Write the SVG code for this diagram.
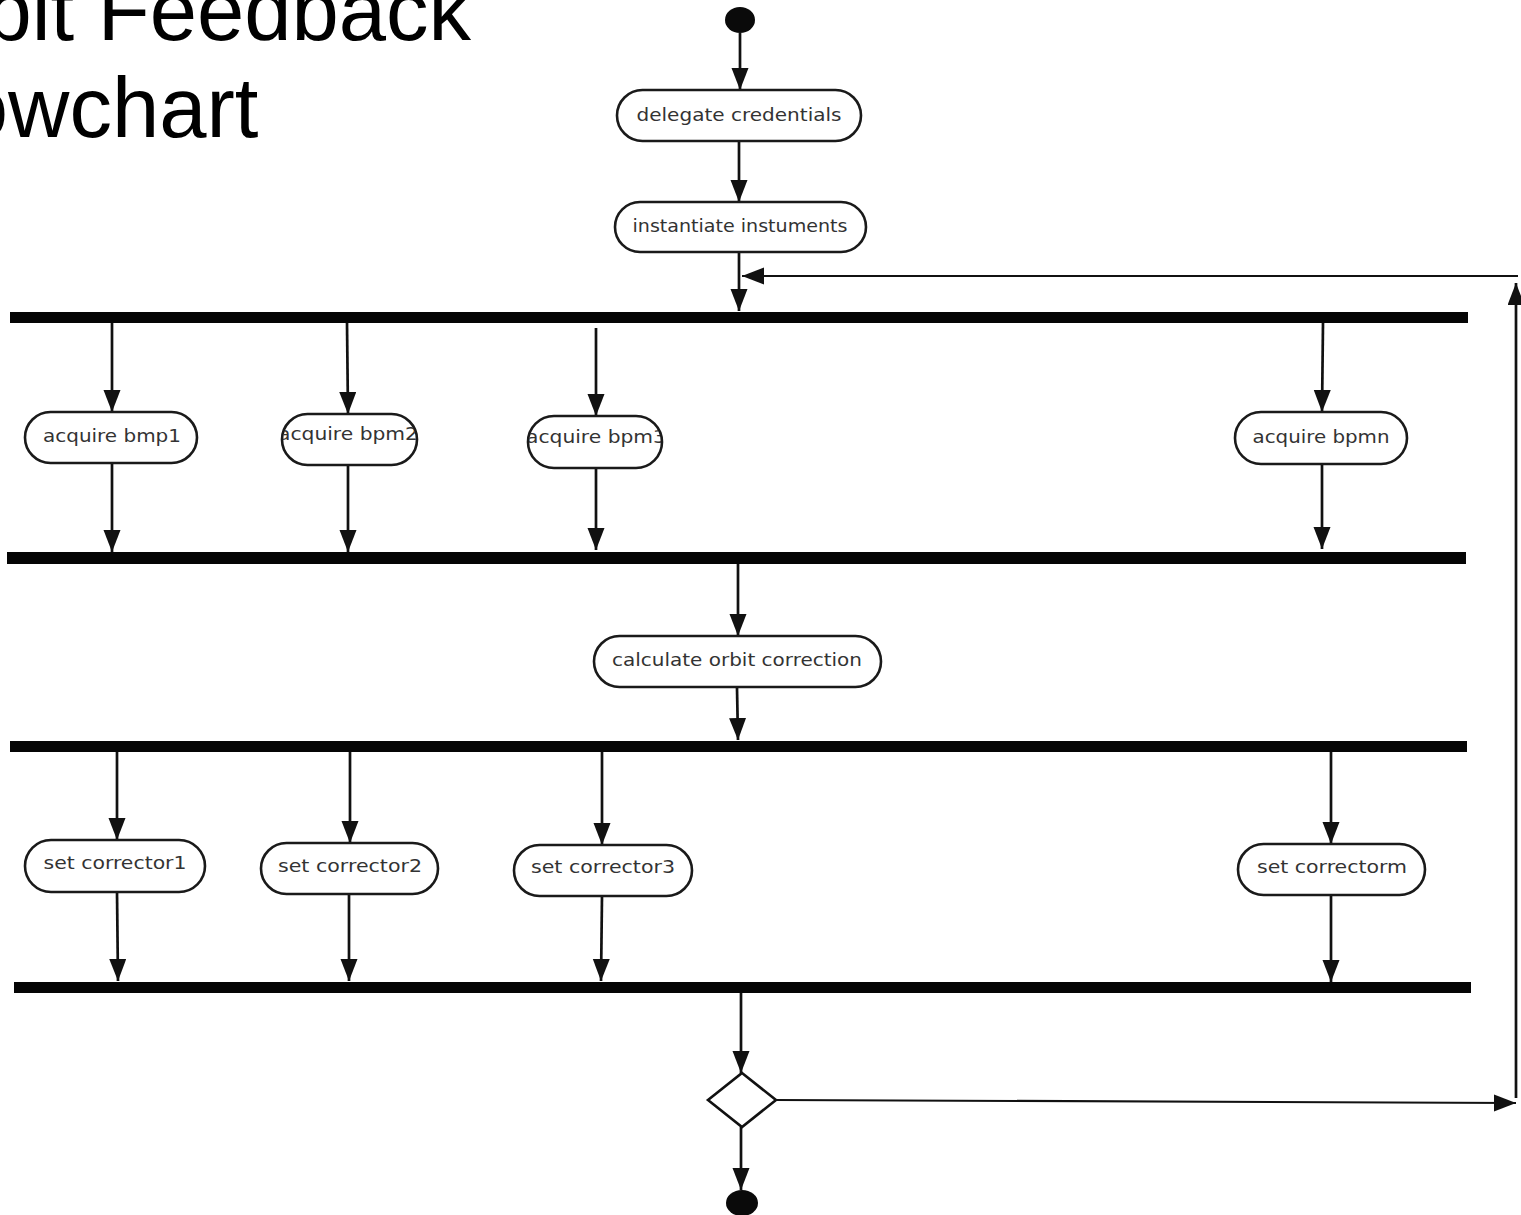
<svg xmlns="http://www.w3.org/2000/svg" width="1521" height="1215" viewBox="0 0 1521 1215">
  <style>
    .title { font-family: "Liberation Sans", Arial, sans-serif; font-size: 85px; fill: #000; }
    .pill { fill: #fff; stroke: #1a1a1a; stroke-width: 2.6; }
    .label { font-family: "DejaVu Sans", sans-serif; font-size: 17.5px; fill: #333; text-anchor: middle; }
    .bar { fill: #050505; }
    .edge { fill: none; stroke: #111; stroke-width: 2.7; }
    .loop { fill: none; stroke: #111; stroke-width: 2.2; }
    .node { fill: #0a0a0a; }
    .decision { fill: #fff; stroke: #111; stroke-width: 2.6; }
  </style>
  <defs>
    <marker id="arrow" markerUnits="userSpaceOnUse" markerWidth="24" markerHeight="18" refX="22" refY="8.5" orient="auto">
      <path d="M0,0 L22,8.5 L0,17 z" fill="#111"/>
    </marker>
    <clipPath id="clip-bpm2"><rect x="283" y="415" width="133" height="49" rx="24.5"/></clipPath>
    <clipPath id="clip-bpm3"><rect x="529" y="417" width="132" height="50" rx="25"/></clipPath>
  </defs>
  <rect width="1521" height="1215" fill="#fff"/>

  <!-- heading, running off the left edge -->
  <g id="title">
    <text class="title" x="-110" y="40">Orbit Feedback</text>
    <text class="title" x="-110" y="137">Flowchart</text>
  </g>

  <!-- connectors -->
  <g id="connectors">
    <line class="edge" x1="740" y1="33" x2="740" y2="90" marker-end="url(#arrow)"/>
    <line class="edge" x1="739" y1="141" x2="739" y2="202" marker-end="url(#arrow)"/>
    <line class="edge" x1="739" y1="252" x2="739" y2="311" marker-end="url(#arrow)"/>

    <line class="edge" x1="112" y1="323" x2="112" y2="412" marker-end="url(#arrow)"/>
    <line class="edge" x1="347" y1="323" x2="348" y2="414" marker-end="url(#arrow)"/>
    <line class="edge" x1="596" y1="328" x2="596" y2="416" marker-end="url(#arrow)"/>
    <line class="edge" x1="1323" y1="323" x2="1322" y2="412" marker-end="url(#arrow)"/>

    <line class="edge" x1="112" y1="463" x2="112" y2="552" marker-end="url(#arrow)"/>
    <line class="edge" x1="348" y1="465" x2="348" y2="552" marker-end="url(#arrow)"/>
    <line class="edge" x1="596" y1="468" x2="596" y2="550" marker-end="url(#arrow)"/>
    <line class="edge" x1="1322" y1="464" x2="1322" y2="549" marker-end="url(#arrow)"/>

    <line class="edge" x1="738" y1="564" x2="738" y2="636" marker-end="url(#arrow)"/>
    <line class="edge" x1="737" y1="688" x2="738" y2="740" marker-end="url(#arrow)"/>

    <line class="edge" x1="117" y1="752" x2="117" y2="840" marker-end="url(#arrow)"/>
    <line class="edge" x1="350" y1="752" x2="350" y2="843" marker-end="url(#arrow)"/>
    <line class="edge" x1="602" y1="752" x2="602" y2="845" marker-end="url(#arrow)"/>
    <line class="edge" x1="1331" y1="752" x2="1331" y2="844" marker-end="url(#arrow)"/>

    <line class="edge" x1="117" y1="892" x2="118" y2="981" marker-end="url(#arrow)"/>
    <line class="edge" x1="349" y1="894" x2="349" y2="981" marker-end="url(#arrow)"/>
    <line class="edge" x1="602" y1="896" x2="601" y2="981" marker-end="url(#arrow)"/>
    <line class="edge" x1="1331" y1="895" x2="1331" y2="982" marker-end="url(#arrow)"/>

    <line class="edge" x1="741" y1="993" x2="741" y2="1073" marker-end="url(#arrow)"/>
    <line class="edge" x1="741" y1="1127" x2="741" y2="1190" marker-end="url(#arrow)"/>

    <!-- repeat loop back to the first fork -->
    <line class="loop" x1="776" y1="1100" x2="1516" y2="1103" marker-end="url(#arrow)"/>
    <line class="edge" x1="1516" y1="1098" x2="1516" y2="283" marker-end="url(#arrow)"/>
    <line class="loop" x1="1518" y1="276" x2="742" y2="276" marker-end="url(#arrow)"/>
  </g>

  <g id="start"><ellipse class="node" cx="740" cy="20" rx="15" ry="13"/></g>

  <g id="delegate-credentials">
    <rect class="pill" x="617" y="90" width="244" height="51" rx="25.5"/>
    <text class="label" x="739" y="121" textLength="205" lengthAdjust="spacingAndGlyphs">delegate credentials</text>
  </g>
  <g id="instantiate-instruments">
    <rect class="pill" x="615" y="202" width="251" height="50" rx="25"/>
    <text class="label" x="740" y="232" textLength="215" lengthAdjust="spacingAndGlyphs">instantiate instuments</text>
  </g>

  <g id="fork-acquire"><rect class="bar" x="10" y="312" width="1458" height="11"/></g>

  <g id="acquire-bmp1">
    <rect class="pill" x="25" y="412" width="172" height="51" rx="25.5"/>
    <text class="label" x="112" y="442" textLength="138" lengthAdjust="spacingAndGlyphs">acquire bmp1</text>
  </g>
  <g id="acquire-bpm2">
    <rect class="pill" x="282" y="414" width="135" height="51" rx="25.5"/>
    <text class="label" x="348" y="440" textLength="140" lengthAdjust="spacingAndGlyphs" clip-path="url(#clip-bpm2)">acquire bpm2</text>
  </g>
  <g id="acquire-bpm3">
    <rect class="pill" x="528" y="416" width="134" height="52" rx="26"/>
    <text class="label" x="596" y="443" textLength="140" lengthAdjust="spacingAndGlyphs" clip-path="url(#clip-bpm3)">acquire bpm3</text>
  </g>
  <g id="acquire-bpmn">
    <rect class="pill" x="1235" y="412" width="172" height="52" rx="26"/>
    <text class="label" x="1321" y="443" textLength="137" lengthAdjust="spacingAndGlyphs">acquire bpmn</text>
  </g>

  <g id="join-acquire"><rect class="bar" x="7" y="552" width="1459" height="12"/></g>

  <g id="calculate-orbit-correction">
    <rect class="pill" x="594" y="636" width="287" height="51" rx="25.5"/>
    <text class="label" x="737" y="666" textLength="250" lengthAdjust="spacingAndGlyphs">calculate orbit correction</text>
  </g>

  <g id="fork-set"><rect class="bar" x="10" y="741" width="1457" height="11"/></g>

  <g id="set-corrector1">
    <rect class="pill" x="25" y="840" width="180" height="52" rx="26"/>
    <text class="label" x="115" y="869" textLength="143" lengthAdjust="spacingAndGlyphs">set corrector1</text>
  </g>
  <g id="set-corrector2">
    <rect class="pill" x="261" y="843" width="177" height="51" rx="25.5"/>
    <text class="label" x="350" y="872" textLength="144" lengthAdjust="spacingAndGlyphs">set corrector2</text>
  </g>
  <g id="set-corrector3">
    <rect class="pill" x="514" y="845" width="178" height="51" rx="25.5"/>
    <text class="label" x="603" y="873" textLength="144" lengthAdjust="spacingAndGlyphs">set corrector3</text>
  </g>
  <g id="set-correctorm">
    <rect class="pill" x="1238" y="844" width="187" height="51" rx="25.5"/>
    <text class="label" x="1332" y="873" textLength="150" lengthAdjust="spacingAndGlyphs">set correctorm</text>
  </g>

  <g id="join-set"><rect class="bar" x="14" y="982" width="1457" height="11"/></g>

  <g id="repeat-decision"><polygon class="decision" points="742,1073 776,1100 742,1127 708,1100"/></g>

  <g id="end"><ellipse class="node" cx="742" cy="1203" rx="16" ry="13"/></g>
</svg>
